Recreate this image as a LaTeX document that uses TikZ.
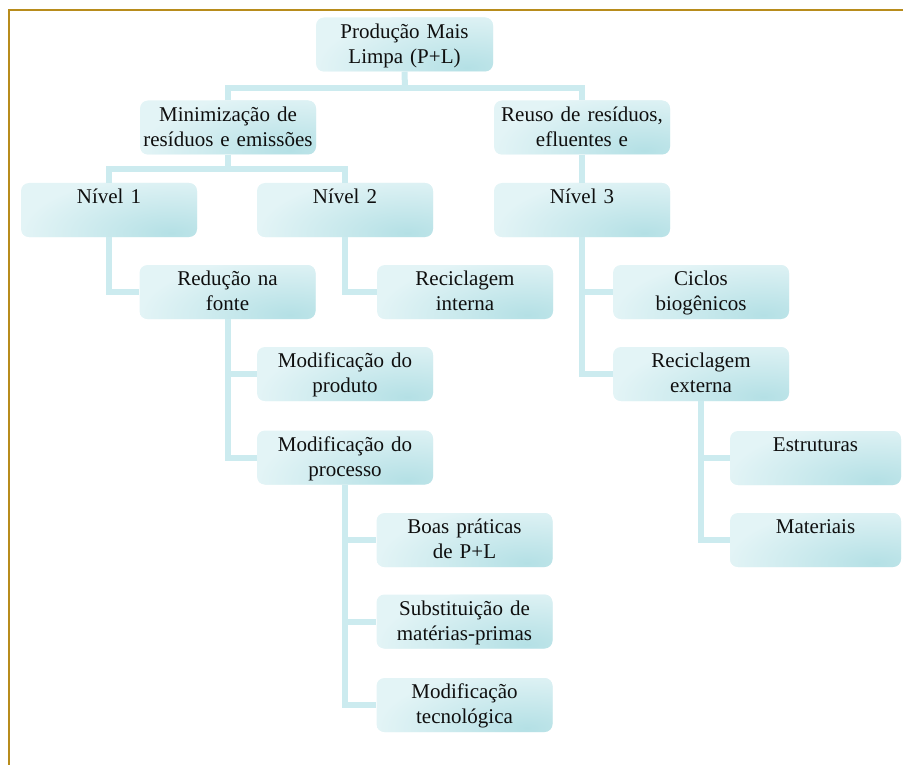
\documentclass[tikz,border=0pt]{standalone}
\usepackage{fontspec}
\setmainfont{Liberation Serif}
\definecolor{boxlight}{RGB}{227,244,246}
\definecolor{boxdark}{RGB}{180,224,229}
\definecolor{linecol}{RGB}{204,235,239}
\definecolor{textdark}{RGB}{15,15,15}
\definecolor{frame}{RGB}{184,140,28}
% two text lines per box; the second may be empty
\newcommand{\boxlines}[2]{\rule{0pt}{20pt}#1\\\strut #2}
\begin{document}
\begin{tikzpicture}[x=1pt,y=-1pt,
  box/.style={rounded corners=8pt, fill=boxlight, minimum width=176pt,
    minimum height=54pt, inner sep=0pt, text width=176pt, align=center,
    font=\fontsize{21}{25}\selectfont, text=textdark,
    path picture={\shade[inner color=boxdark, outer color=boxlight]
      ([xshift=-25pt,yshift=4pt]path picture bounding box.south east)
      ellipse [x radius=150pt, y radius=58pt];}},
  conn/.style={draw=linecol, line width=6pt, line join=miter}]
\useasboundingbox (0,0) rectangle (903,765);

% page frame
\draw[frame, line width=2.5pt] (9,765) -- (9,10) -- (903,10);

% boxes
\node[box, minimum width=177pt, text width=177pt] (top) at (404.5,44.5) {\boxlines{Produção Mais}{Limpa (P+L)}};
\node[box] (mini)  at (228,127.5) {\boxlines{Minimização de}{resíduos e emissões}};
\node[box] (reuso) at (582,127.5) {\boxlines{Reuso de resíduos,}{efluentes e}};
\node[box] (n1) at (109,210) {\boxlines{Nível 1}{}};
\node[box] (n2) at (345,210) {\boxlines{Nível 2}{}};
\node[box] (n3) at (582,210) {\boxlines{Nível 3}{}};
\node[box] (red)    at (227.5,292) {\boxlines{Redução na}{fonte}};
\node[box] (recint) at (465,292)   {\boxlines{Reciclagem}{interna}};
\node[box] (modprod) at (345,374)  {\boxlines{Modificação do}{produto}};
\node[box] (modproc) at (345,457.5){\boxlines{Modificação do}{processo}};
\node[box] (boas)  at (464.5,540)   {\boxlines{Boas práticas}{de P+L}};
\node[box] (subst) at (464.5,621.5) {\boxlines{Substituição de}{matérias-primas}};
\node[box] (modtec) at (464.5,705)  {\boxlines{Modificação}{tecnológica}};
\node[box] (ciclos) at (701,292) {\boxlines{Ciclos}{biogênicos}};
\node[box] (recext) at (701,374) {\boxlines{Reciclagem}{externa}};
\node[box, minimum width=171pt, text width=171pt] (estr) at (815.5,458) {\boxlines{Estruturas}{}};
\node[box, minimum width=171pt, text width=171pt] (mat)  at (815.5,540) {\boxlines{Materiais}{}};

% connectors
\coordinate (b1) at (405,88);
\coordinate (b2) at (228,169);
\draw[conn] (top.south) -- (b1);
\draw[conn] (mini.north) |- (b1) -| (reuso.north);
\draw[conn] (mini.south) -- (b2);
\draw[conn] (n1.north) |- (b2) -| (n2.north);
\draw[conn] (reuso.south) -- (n3.north);
\draw[conn] (n1.south) |- (red.west);
\draw[conn] (n2.south) |- (recint.west);
\draw[conn] (red.south) |- (modprod.west);
\draw[conn] (red.south) |- (modproc.west);
\draw[conn] (modproc.south) |- (boas.west);
\draw[conn] (modproc.south) |- (subst.west);
\draw[conn] (modproc.south) |- (modtec.west);
\draw[conn] (n3.south) |- (ciclos.west);
\draw[conn] (n3.south) |- (recext.west);
\draw[conn] (recext.south) |- (estr.west);
\draw[conn] (recext.south) |- (mat.west);
\end{tikzpicture}
\end{document}
